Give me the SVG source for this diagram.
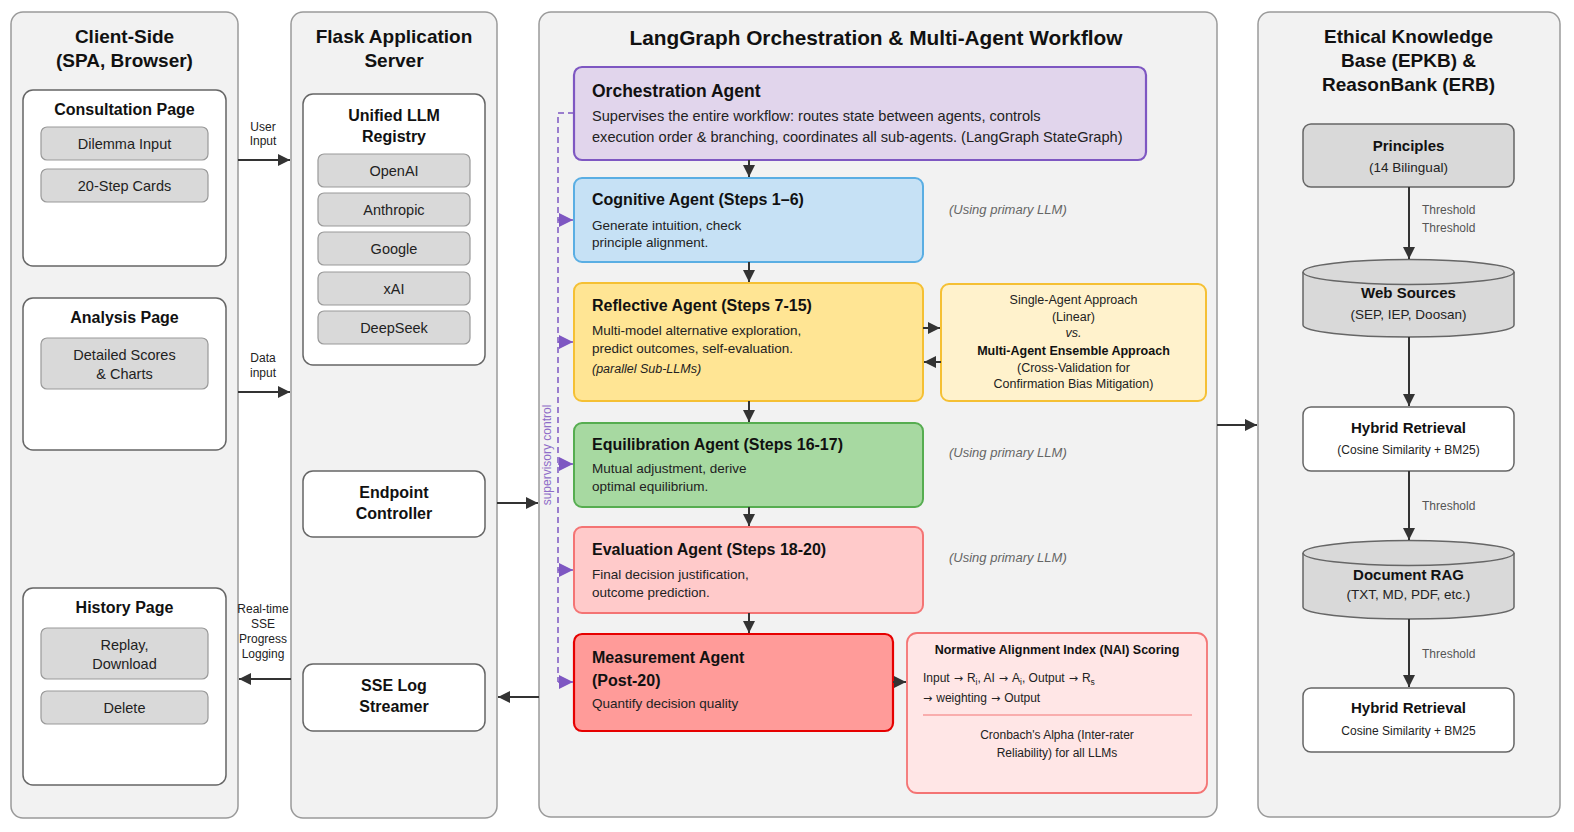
<svg xmlns="http://www.w3.org/2000/svg" width="1574" height="832" viewBox="0 0 1574 832">
<defs>
<marker id="ah" viewBox="0 0 10 10" refX="10" refY="5" markerWidth="12" markerHeight="12" markerUnits="userSpaceOnUse" orient="auto"><path d="M0,0L10,5L0,10z" fill="#333"/></marker>
<marker id="ahp" viewBox="0 0 10 10" refX="10" refY="5" markerWidth="14" markerHeight="14" markerUnits="userSpaceOnUse" orient="auto"><path d="M0,0L10,5L0,10z" fill="#7e57c2"/></marker>
</defs>
<style>
text{font-family:"Liberation Sans",Arial,Helvetica,sans-serif;fill:#111}
.panel{fill:#f2f2f2;stroke:#9a9a9a;stroke-width:1.5}
.box{fill:#fff;stroke:#666;stroke-width:1.5}
.btn{fill:#d9d9d9;stroke:#999;stroke-width:1.2}
.gbox{fill:#d9d9d9;stroke:#666;stroke-width:1.5}
.ptitle{font-size:19px;font-weight:bold;text-anchor:middle}
.ntitle{font-size:16px;font-weight:bold;text-anchor:middle}
.btxt{font-size:14.5px;text-anchor:middle;fill:#222}
.lbl{font-size:12px;text-anchor:middle;fill:#222}
.atitle{font-size:16px;font-weight:bold}
.abody{font-size:13.5px;fill:#222}
.note{font-size:13px;font-style:italic;fill:#666}
.small{font-size:12.5px;text-anchor:middle;fill:#222}
.sub{font-size:12px;text-anchor:middle;fill:#222}
.thr{font-size:12px;fill:#555}
.arw{font-family:"DejaVu Sans",sans-serif;font-size:11px}
.conn{stroke:#333;stroke-width:2;fill:none;marker-end:url(#ah)}
.sup{stroke:#7e57c2;stroke-width:1.5;fill:none;stroke-dasharray:6,4}
.suph{stroke:#7e57c2;stroke-width:1.5;fill:none;marker-end:url(#ahp)}
</style>

<!-- Panels -->
<g id="panel-client">
<rect class="panel" x="11" y="12" width="227" height="806" rx="12"/>
<text class="ptitle" x="124.5" y="43">Client-Side</text>
<text class="ptitle" x="124.5" y="67">(SPA, Browser)</text>
</g>
<g id="panel-flask">
<rect class="panel" x="291" y="12" width="206" height="806" rx="12"/>
<text class="ptitle" x="394" y="43">Flask Application</text>
<text class="ptitle" x="394" y="67">Server</text>
</g>
<g id="panel-langgraph">
<rect class="panel" x="539" y="12" width="678" height="805" rx="12"/>
<text x="876" y="45" style="font-size:20.8px;font-weight:bold;text-anchor:middle">LangGraph Orchestration &amp; Multi-Agent Workflow</text>
</g>
<g id="panel-knowledge">
<rect class="panel" x="1258" y="12" width="302" height="805" rx="12"/>
<text class="ptitle" x="1408.5" y="43">Ethical Knowledge</text>
<text class="ptitle" x="1408.5" y="67">Base (EPKB) &amp;</text>
<text class="ptitle" x="1408.5" y="91">ReasonBank (ERB)</text>
</g>

<!-- Client nodes -->
<g id="consultation-page">
<rect class="box" x="23" y="90" width="203" height="176" rx="10"/>
<text class="ntitle" x="124.5" y="115">Consultation Page</text>
<rect class="btn" x="41" y="127" width="167" height="33" rx="6"/>
<text class="btxt" x="124.5" y="149">Dilemma Input</text>
<rect class="btn" x="41" y="169" width="167" height="33" rx="6"/>
<text class="btxt" x="124.5" y="191">20-Step Cards</text>
</g>
<g id="analysis-page">
<rect class="box" x="23" y="298" width="203" height="152" rx="10"/>
<text class="ntitle" x="124.5" y="323">Analysis Page</text>
<rect class="btn" x="41" y="338" width="167" height="51" rx="6"/>
<text class="btxt" x="124.5" y="360">Detailed Scores</text>
<text class="btxt" x="124.5" y="379">&amp; Charts</text>
</g>
<g id="history-page">
<rect class="box" x="23" y="588" width="203" height="197" rx="10"/>
<text class="ntitle" x="124.5" y="613">History Page</text>
<rect class="btn" x="41" y="628" width="167" height="51" rx="6"/>
<text class="btxt" x="124.5" y="650">Replay,</text>
<text class="btxt" x="124.5" y="669">Download</text>
<rect class="btn" x="41" y="691" width="167" height="33" rx="6"/>
<text class="btxt" x="124.5" y="713">Delete</text>
</g>

<!-- Flask nodes -->
<g id="llm-registry">
<rect class="box" x="303" y="94" width="182" height="271" rx="10"/>
<text class="ntitle" x="394" y="121">Unified LLM</text>
<text class="ntitle" x="394" y="142">Registry</text>
<rect class="btn" x="318" y="154" width="152" height="33" rx="6"/>
<text class="btxt" x="394" y="176">OpenAI</text>
<rect class="btn" x="318" y="193" width="152" height="33" rx="6"/>
<text class="btxt" x="394" y="215">Anthropic</text>
<rect class="btn" x="318" y="232" width="152" height="33" rx="6"/>
<text class="btxt" x="394" y="254">Google</text>
<rect class="btn" x="318" y="272" width="152" height="33" rx="6"/>
<text class="btxt" x="394" y="294">xAI</text>
<rect class="btn" x="318" y="311" width="152" height="33" rx="6"/>
<text class="btxt" x="394" y="333">DeepSeek</text>
</g>
<g id="endpoint-controller">
<rect class="box" x="303" y="471" width="182" height="66" rx="10"/>
<text class="ntitle" x="394" y="498">Endpoint</text>
<text class="ntitle" x="394" y="519">Controller</text>
</g>
<g id="sse-log-streamer">
<rect class="box" x="303" y="664" width="182" height="67" rx="10"/>
<text class="ntitle" x="394" y="691">SSE Log</text>
<text class="ntitle" x="394" y="712">Streamer</text>
</g>

<!-- Agents -->
<g id="orchestration-agent">
<rect x="574" y="67" width="572" height="93" rx="8" fill="#e1d5ec" stroke="#7e57c2" stroke-width="2.2"/>
<text x="592" y="97" style="font-size:17.5px;font-weight:bold">Orchestration Agent</text>
<text x="592" y="121" style="font-size:14.6px;fill:#222">Supervises the entire workflow: routes state between agents, controls</text>
<text x="592" y="142" style="font-size:14.6px;fill:#222">execution order &amp; branching, coordinates all sub-agents. (LangGraph StateGraph)</text>
</g>
<g id="cognitive-agent">
<rect x="574" y="178" width="349" height="84" rx="8" fill="#c6e1f5" stroke="#5aaee3" stroke-width="2"/>
<text class="atitle" x="592" y="205">Cognitive Agent (Steps 1–6)</text>
<text class="abody" x="592" y="230">Generate intuition, check</text>
<text class="abody" x="592" y="247">principle alignment.</text>
</g>
<g id="reflective-agent">
<rect x="574" y="283" width="349" height="118" rx="8" fill="#ffe594" stroke="#f5c034" stroke-width="2"/>
<text class="atitle" x="592" y="311">Reflective Agent (Steps 7-15)</text>
<text class="abody" x="592" y="335">Multi-model alternative exploration,</text>
<text class="abody" x="592" y="353">predict outcomes, self-evaluation.</text>
<text x="592" y="373" style="font-size:12.5px;font-style:italic;fill:#222">(parallel Sub-LLMs)</text>
</g>
<g id="approach-comparison">
<rect x="941" y="284" width="265" height="117" rx="8" fill="#fff2cc" stroke="#f5c034" stroke-width="2"/>
<text class="small" x="1073.5" y="304">Single-Agent Approach</text>
<text class="small" x="1073.5" y="321">(Linear)</text>
<text class="small" x="1073.5" y="337" font-style="italic">vs.</text>
<text class="small" x="1073.5" y="355" font-weight="bold" style="fill:#111">Multi-Agent Ensemble Approach</text>
<text class="small" x="1073.5" y="372">(Cross-Validation for</text>
<text class="small" x="1073.5" y="388">Confirmation Bias Mitigation)</text>
</g>
<g id="equilibration-agent">
<rect x="574" y="423" width="349" height="84" rx="8" fill="#a7d9a1" stroke="#56ad50" stroke-width="2"/>
<text class="atitle" x="592" y="450">Equilibration Agent (Steps 16-17)</text>
<text class="abody" x="592" y="473">Mutual adjustment, derive</text>
<text class="abody" x="592" y="491">optimal equilibrium.</text>
</g>
<g id="evaluation-agent">
<rect x="574" y="527" width="349" height="86" rx="8" fill="#ffcaca" stroke="#f47474" stroke-width="2"/>
<text class="atitle" x="592" y="555">Evaluation Agent (Steps 18-20)</text>
<text class="abody" x="592" y="579">Final decision justification,</text>
<text class="abody" x="592" y="597">outcome prediction.</text>
</g>
<g id="measurement-agent">
<rect x="574" y="634" width="319" height="97" rx="8" fill="#ff9b99" stroke="#e60000" stroke-width="2.2"/>
<text class="atitle" x="592" y="663">Measurement Agent</text>
<text class="atitle" x="592" y="686">(Post-20)</text>
<text class="abody" x="592" y="708">Quantify decision quality</text>
</g>
<g id="nai-scoring">
<rect x="907" y="633" width="300" height="160" rx="10" fill="#ffe6e6" stroke="#f47474" stroke-width="1.8"/>
<text x="1057" y="654" style="font-size:12.5px;font-weight:bold;text-anchor:middle">Normative Alignment Index (NAI) Scoring</text>
<text x="923" y="682" style="font-size:12px;fill:#222">Input<tspan class="arw" dx="4">→</tspan><tspan dx="4">R</tspan><tspan dy="3" font-size="8.5">i</tspan><tspan dy="-3">, AI</tspan><tspan class="arw" dx="4">→</tspan><tspan dx="4">A</tspan><tspan dy="3" font-size="8.5">i</tspan><tspan dy="-3">, Output</tspan><tspan class="arw" dx="4">→</tspan><tspan dx="4">R</tspan><tspan dy="3" font-size="8.5">s</tspan></text>
<text x="923" y="702" style="font-size:12px;fill:#222"><tspan class="arw">→</tspan><tspan dx="4">weighting</tspan><tspan class="arw" dx="4">→</tspan><tspan dx="4">Output</tspan></text>
<line x1="923" y1="715" x2="1192" y2="715" stroke="#f47474" stroke-width="1.2"/>
<text class="sub" x="1057" y="739">Cronbach's Alpha (Inter-rater</text>
<text class="sub" x="1057" y="757">Reliability) for all LLMs</text>
</g>
<g id="using-primary-notes">
<text class="note" x="949" y="214">(Using primary LLM)</text>
<text class="note" x="949" y="457">(Using primary LLM)</text>
<text class="note" x="949" y="562">(Using primary LLM)</text>
</g>

<!-- Knowledge base nodes -->
<g id="principles">
<rect class="gbox" x="1303" y="124" width="211" height="63" rx="8"/>
<text x="1408.5" y="151" style="font-size:15px;font-weight:bold;text-anchor:middle">Principles</text>
<text x="1408.5" y="172" style="font-size:13.5px;text-anchor:middle;fill:#222">(14 Bilingual)</text>
</g>
<g id="web-sources">
<path class="gbox" d="M1303,272 L1303,325 A105.5,12 0 0 0 1514,325 L1514,272 A105.5,12.5 0 0 0 1303,272 Z"/>
<path d="M1303,272 A105.5,12.5 0 0 0 1514,272" fill="none" stroke="#666" stroke-width="1.5"/>
<text x="1408.5" y="298" style="font-size:15px;font-weight:bold;text-anchor:middle">Web Sources</text>
<text x="1408.5" y="319" style="font-size:13.5px;text-anchor:middle;fill:#222">(SEP, IEP, Doosan)</text>
</g>
<g id="hybrid-retrieval-1">
<rect class="box" x="1303" y="407" width="211" height="64" rx="8"/>
<text x="1408.5" y="433" style="font-size:15px;font-weight:bold;text-anchor:middle">Hybrid Retrieval</text>
<text class="sub" x="1408.5" y="454">(Cosine Similarity + BM25)</text>
</g>
<g id="document-rag">
<path class="gbox" d="M1303,553 L1303,607 A105.5,12 0 0 0 1514,607 L1514,553 A105.5,12.5 0 0 0 1303,553 Z"/>
<path d="M1303,553 A105.5,12.5 0 0 0 1514,553" fill="none" stroke="#666" stroke-width="1.5"/>
<text x="1408.5" y="580" style="font-size:15px;font-weight:bold;text-anchor:middle">Document RAG</text>
<text x="1408.5" y="599" style="font-size:13.5px;text-anchor:middle;fill:#222">(TXT, MD, PDF, etc.)</text>
</g>
<g id="hybrid-retrieval-2">
<rect class="box" x="1303" y="688" width="211" height="64" rx="8"/>
<text x="1408.5" y="713" style="font-size:15px;font-weight:bold;text-anchor:middle">Hybrid Retrieval</text>
<text class="sub" x="1408.5" y="735">Cosine Similarity + BM25</text>
</g>

<!-- Connectors -->
<g id="connectors">
<line class="conn" x1="238" y1="160" x2="290" y2="160"/>
<text class="lbl" x="263" y="131">User</text>
<text class="lbl" x="263" y="145">Input</text>
<line class="conn" x1="238" y1="392" x2="290" y2="392"/>
<text class="lbl" x="263" y="362">Data</text>
<text class="lbl" x="263" y="377">input</text>
<line class="conn" x1="291" y1="679" x2="239" y2="679"/>
<text class="lbl" x="263" y="613">Real-time</text>
<text class="lbl" x="263" y="628">SSE</text>
<text class="lbl" x="263" y="643">Progress</text>
<text class="lbl" x="263" y="658">Logging</text>
<line class="conn" x1="497" y1="503" x2="538" y2="503"/>
<line class="conn" x1="539" y1="697" x2="498" y2="697"/>

<line class="conn" x1="749" y1="160" x2="749" y2="177"/>
<line class="conn" x1="749" y1="262" x2="749" y2="282"/>
<line class="conn" x1="749" y1="401" x2="749" y2="422"/>
<line class="conn" x1="749" y1="507" x2="749" y2="526"/>
<line class="conn" x1="749" y1="613" x2="749" y2="633"/>
<line class="conn" x1="923" y1="328" x2="940" y2="328"/>
<line class="conn" x1="941" y1="362" x2="924" y2="362"/>
<line class="conn" x1="893" y1="682" x2="906" y2="682"/>

<path class="sup" d="M574,113 H558 V682"/>
<line class="suph" x1="558" y1="220" x2="573" y2="220"/>
<line class="suph" x1="558" y1="342" x2="573" y2="342"/>
<line class="suph" x1="558" y1="464" x2="573" y2="464"/>
<line class="suph" x1="558" y1="570" x2="573" y2="570"/>
<line class="suph" x1="558" y1="682" x2="573" y2="682"/>
<text transform="translate(551,455) rotate(-90)" style="font-size:12px;text-anchor:middle;fill:#8e6cc8">supervisory control</text>

<line class="conn" x1="1217" y1="425" x2="1257" y2="425"/>
<line class="conn" x1="1409" y1="187" x2="1409" y2="259"/>
<text class="thr" x="1422" y="214">Threshold</text>
<text class="thr" x="1422" y="232">Threshold</text>
<line class="conn" x1="1409" y1="337" x2="1409" y2="406"/>
<line class="conn" x1="1409" y1="471" x2="1409" y2="540"/>
<text class="thr" x="1422" y="510">Threshold</text>
<line class="conn" x1="1409" y1="619" x2="1409" y2="687"/>
<text class="thr" x="1422" y="658">Threshold</text>
</g>
</svg>
